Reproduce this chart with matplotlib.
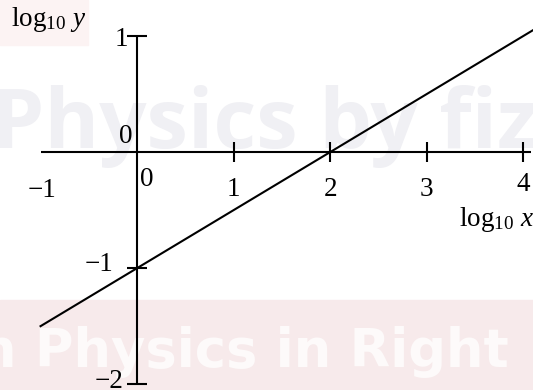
import matplotlib
matplotlib.use('Agg')
import matplotlib.pyplot as plt
from matplotlib.patches import Rectangle

plt.rcParams['font.family'] = ['Liberation Serif', 'DejaVu Serif']
plt.rcParams['mathtext.fontset'] = 'custom'
plt.rcParams['mathtext.rm'] = 'Liberation Serif'
plt.rcParams['mathtext.it'] = 'Liberation Serif:italic'

# straight line log10(y) = 0.5*log10(x) - 1
log_x = [-1.0, 0.0, 2.0, 4.1]
log_y = [-1.5, -1.0, 0.0, 1.05]

x_ticks = [1, 2, 3, 4]
y_ticks = [1, -1, -2]
x_tick_labels = ['1', '2', '3', '4']
y_tick_labels = ['1', '\u22121', '\u22122']

fig = plt.figure(figsize=(5.33, 3.90), dpi=100)
fig.patch.set_facecolor('white')

# faint background watermark
fig.patches.append(Rectangle((0, 1 - 45 / 390), 88 / 533, 45 / 390,
                             transform=fig.transFigure, color='#fcf3f3', zorder=0))
fig.patches.append(Rectangle((0, 0), 1, 90 / 390,
                             transform=fig.transFigure, color='#f7eaeb', zorder=0))
fig.text(-0.015, 0.62, 'Physics by fiz', fontsize=60, fontweight='bold',
         family='Open Sans', color='#f0f0f4', va='baseline', zorder=0)
fig.text(-0.04, 0.06, 'n Physics in Right', fontsize=38, fontweight='bold',
         family='DejaVu Sans', color='#fdfafa', va='baseline', zorder=0)

ax = fig.add_axes([0, 0, 1, 1])
ax.set_zorder(5)
ax.set_xlim(-1.42, 4.10)
ax.set_ylim(-2.05, 1.31)
ax.axis('off')
ax.patch.set_alpha(0)

# axes drawn through the origin
ax.plot([-1.0, 4.08], [0, 0], color='black', lw=1.5, solid_capstyle='butt')
ax.plot([0, 0], [-2.0, 1.0], color='black', lw=1.5, solid_capstyle='butt')
ax.plot(x_ticks, [0] * len(x_ticks), ls='none', marker='|', ms=15, mew=1.5, color='black')
ax.plot([0] * len(y_ticks), y_ticks, ls='none', marker='_', ms=15, mew=1.5, color='black')

ax.plot(log_x, log_y, color='black', lw=1.5)

fs = 19.5
x_label_y = [-0.32, -0.32, -0.32, -0.28]
for xt, lab, ly in zip(x_ticks, x_tick_labels, x_label_y):
    ax.text(xt, ly, lab, fontsize=fs, ha='center', va='center')
ax.text(-0.98, -0.335, '\u22121', fontsize=fs, ha='center', va='center')

y_label_x = [-0.09, -0.25, -0.14]
y_label_dy = [-0.03, 0.03, 0.02]
for yt, lab, lx, dy in zip(y_ticks, y_tick_labels, y_label_x, y_label_dy):
    ax.text(lx, yt + dy, lab, fontsize=fs, ha='right', va='center')

ax.text(-0.05, 0.03, '0', fontsize=fs, ha='right', va='bottom')
ax.text(0.03, -0.13, '0', fontsize=fs, ha='left', va='top')

ax.text(3.72, -0.58, r'$\log_{10}\,x$', fontsize=fs, ha='center', va='center')
ax.text(-0.92, 1.14, r'$\log_{10}\,y$', fontsize=fs, ha='center', va='center')

fig.savefig('out.png', dpi=100)
